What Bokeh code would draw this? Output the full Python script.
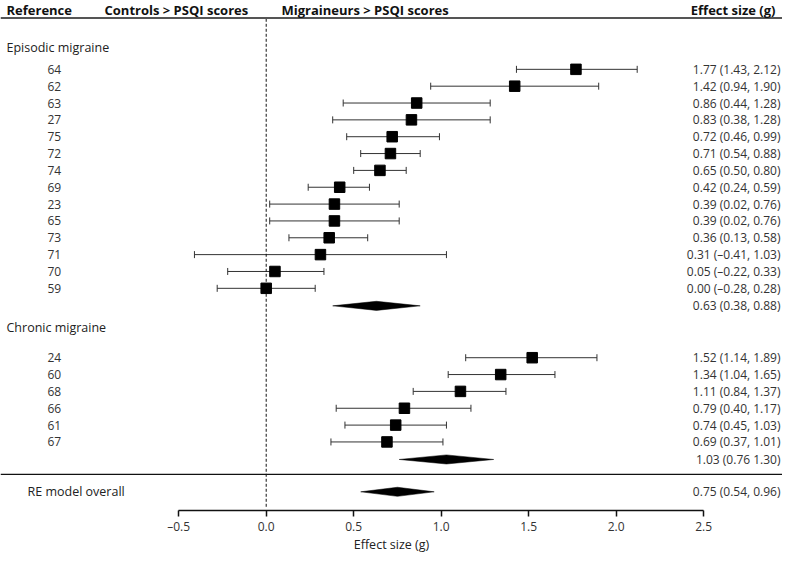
import numpy as np
from bokeh.plotting import figure
from bokeh.models import (ColumnDataSource, Range1d, LinearAxis, FixedTicker,
                          Whisker, TeeHead, Span, Label)
from bokeh.core.properties import value
from bokeh.embed import file_html
from bokeh.resources import INLINE

# ---------------- data ----------------
ep_studies = ["64", "62", "63", "27", "75", "72", "74", "69", "23", "65", "73", "71", "70", "59"]
ep_g  = [1.77, 1.42, 0.86, 0.83, 0.72, 0.71, 0.65, 0.42, 0.39, 0.39, 0.36, 0.31, 0.05, 0.00]
ep_lo = [1.43, 0.94, 0.44, 0.38, 0.46, 0.54, 0.50, 0.24, 0.02, 0.02, 0.13, -0.41, -0.22, -0.28]
ep_hi = [2.12, 1.90, 1.28, 1.28, 0.99, 0.88, 0.80, 0.59, 0.76, 0.76, 0.58, 1.03, 0.33, 0.28]

ch_studies = ["24", "60", "68", "66", "61", "67"]
ch_g  = [1.52, 1.34, 1.11, 0.79, 0.74, 0.69]
ch_lo = [1.14, 1.04, 0.84, 0.40, 0.45, 0.37]
ch_hi = [1.89, 1.65, 1.37, 1.17, 1.03, 1.01]

pooled_names = ["Episodic migraine", "Chronic migraine", "RE model overall"]
pooled_g  = [0.63, 1.03, 0.75]
pooled_lo = [0.38, 0.76, 0.54]
pooled_hi = [0.88, 1.30, 0.96]
pooled_text = ["0.63 (0.38, 0.88)", "1.03 (0.76 1.30)", "0.75 (0.54, 0.96)"]

headers = ["Reference", "Controls > PSQI scores", "Migraineurs > PSQI scores", "Effect size (g)"]
tick_vals = [-0.5, 0.0, 0.5, 1.0, 1.5, 2.0, 2.5]
tick_labels = ["\u20130.5", "0.0", "0.5", "1.0", "1.5", "2.0", "2.5"]
x_title = "Effect size (g)"

# ---------------- layout (row units, 0 = first study) ----------------
FONT = "Open Sans"
W, H = 782, 555
HEADER_Y = -3.55
TOPLINE_Y = -3.05
EP_LABEL_Y = -1.31
EP_ROW0 = 0.0
EP_POOL_Y = 14.04
CH_LABEL_Y = 15.33
CH_ROW0 = 17.12
CH_POOL_Y = 23.16
SEP_Y = 24.04
RE_Y = 25.08
AXIS_Y = 26.19
TOP_Y = -4.086

PX0 = 271.7      # reference pixel of x=0
PXU = 175.0      # pixels per unit
SHIFT = 6        # page is drawn 6px left of the reference
def xd(px):      # reference pixel -> data x
    return (px - PX0) / PXU

X_START, X_END = xd(SHIFT), xd(SHIFT + W)
X_LEFT = xd(12)
X_STUDY = xd(53)
X_RE = xd(33)
X_EFF = xd(786)
HEADER_X = [xd(12), xd(110), xd(287), xd(781)]
HEADER_ALIGN = ["left", "left", "left", "right"]
DIAMOND_H = 0.27

def fmt(v):
    return f"{v:.2f}".replace("-", "\u2013")

ep_y = [EP_ROW0 + i for i in range(len(ep_studies))]
ch_y = [CH_ROW0 + i for i in range(len(ch_studies))]

ys = ep_y + ch_y
gs = ep_g + ch_g
los = ep_lo + ch_lo
his = ep_hi + ch_hi
labels = ep_studies + ch_studies
eff = [f"{fmt(g)} ({fmt(l)}, {fmt(h)})" for g, l, h in zip(gs, los, his)]

src = ColumnDataSource(dict(y=ys, g=gs, lo=los, hi=his, label=labels, eff=eff))

p = figure(width=W, height=H, output_backend="svg", toolbar_location=None,
           x_range=Range1d(X_START, X_END), y_range=Range1d(AXIS_Y, TOP_Y),
           x_axis_location=None, y_axis_location=None,
           min_border_left=0, min_border_right=0, min_border_top=0, min_border_bottom=40)
p.grid.grid_line_color = None
p.outline_line_color = None
p.background_fill_color = "white"

# axis
xaxis = LinearAxis(bounds=(tick_vals[0], tick_vals[-1]), ticker=FixedTicker(ticks=tick_vals),
                   axis_label=x_title)
xaxis.major_label_overrides = {v: t for v, t in zip(tick_vals, tick_labels)}
xaxis.axis_line_color = "#111111"
xaxis.axis_line_width = 1.5
xaxis.major_tick_line_color = "#111111"
xaxis.major_tick_line_width = 1.5
xaxis.major_tick_out = 6
xaxis.major_tick_in = 0
xaxis.minor_tick_out = 0
xaxis.minor_tick_in = 0
xaxis.major_label_standoff = 1
xaxis.major_label_text_font = FONT
xaxis.major_label_text_font_size = "12px"
xaxis.major_label_text_color = "#333333"
xaxis.axis_label_text_font = FONT
xaxis.axis_label_text_font_size = "12.5px"
xaxis.axis_label_text_font_style = "normal"
xaxis.axis_label_text_color = "#222222"
xaxis.axis_label_standoff = -2
p.add_layout(xaxis, "below")

# horizontal rules
p.add_layout(Span(location=TOPLINE_Y, dimension="width", line_color="#555555", line_width=2))
p.add_layout(Span(location=SEP_Y, dimension="width", line_color="#111111", line_width=1.3))

# null line
p.segment(x0=0, y0=TOPLINE_Y + 0.05, x1=0, y1=AXIS_Y - 0.2, line_color="#111111",
          line_width=1, line_dash="3 2")

# whiskers + squares
head = dict(size=7, line_color="#333333", line_width=1)
p.add_layout(Whisker(source=src, base="y", lower="lo", upper="hi", dimension="width",
                     line_color="#333333", line_width=1,
                     lower_head=TeeHead(**head), upper_head=TeeHead(**head)))
p.scatter(x="g", y="y", source=src, marker="square", size=10.5, color="black")

# pooled diamonds
pool_y = [EP_POOL_Y, CH_POOL_Y, RE_Y]
dxs = [[l, g, h, g] for g, l, h in zip(pooled_g, pooled_lo, pooled_hi)]
dys = [[y, y - DIAMOND_H, y, y + DIAMOND_H] for y in pool_y]
p.patches(xs=dxs, ys=dys, fill_color="black", line_color="black", line_width=0.5)

# texts
txt = dict(text_font=value(FONT), text_font_size="12px", text_baseline="middle")
p.text(x=X_STUDY, y="y", text="label", source=src, text_color="#333333", text_align="left", **txt)
p.text(x=X_EFF, y="y", text="eff", source=src, text_color="#333333", text_align="right", **txt)
p.text(x=X_EFF, y=pool_y, text=pooled_text, text_color="#333333", text_align="right", **txt)

for name, y, x in zip(pooled_names, [EP_LABEL_Y, CH_LABEL_Y, RE_Y], [X_LEFT, X_LEFT, X_RE]):
    p.add_layout(Label(x=x, y=y, text=name, text_font=FONT, text_font_size="12.5px",
                       text_color="#222222", text_baseline="middle", text_align="left"))

for h, x, a in zip(headers, HEADER_X, HEADER_ALIGN):
    p.add_layout(Label(x=x, y=HEADER_Y, text=h, text_font=FONT, text_font_size="13px",
                       text_font_style="bold", text_color="#111111",
                       text_baseline="middle", text_align=a))

open("out.html", "w").write(file_html(p, INLINE))
